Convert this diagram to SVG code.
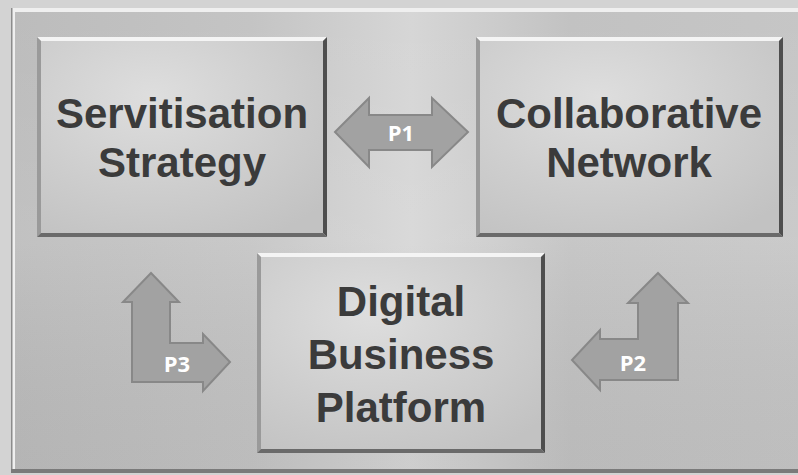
<svg xmlns="http://www.w3.org/2000/svg" width="798" height="475" viewBox="0 0 798 475">
<defs>
<linearGradient id="panelG" x1="0" y1="0" x2="1" y2="0">
<stop offset="0" stop-color="#bcbcbc"/>
<stop offset="0.3" stop-color="#c4c4c4"/>
<stop offset="0.5" stop-color="#d6d6d6"/>
<stop offset="0.7" stop-color="#c2c2c2"/>
<stop offset="1" stop-color="#c6c6c6"/>
</linearGradient>
<linearGradient id="panelV" x1="0" y1="0" x2="0" y2="1">
<stop offset="0" stop-color="#ffffff" stop-opacity="0"/>
<stop offset="0.5" stop-color="#ffffff" stop-opacity="0.08"/>
<stop offset="1" stop-color="#000000" stop-opacity="0.04"/>
</linearGradient>
<radialGradient id="boxG" cx="0.4" cy="0.3" r="0.8">
<stop offset="0" stop-color="#dedede"/>
<stop offset="0.6" stop-color="#cdcdcd"/>
<stop offset="1" stop-color="#c2c2c2"/>
</radialGradient>
<style>
.lbl{font-family:"Liberation Sans",Arial,sans-serif;font-weight:bold;font-size:42px;fill:#3b3b3b;text-anchor:middle}
.plbl{font-family:"Open Sans","Liberation Sans",sans-serif;font-weight:bold;font-size:22px;fill:#ffffff;text-anchor:middle}
.arr{fill:#a2a2a2;stroke:#888888;stroke-width:2;stroke-linejoin:miter}
.face{fill:url(#boxG)}
.btop{fill:#f4f4f4}
.bleft{fill:#9a9a9a}
.bright{fill:#4e4e4e}
.bbot{fill:#6a6a6a}
</style>
</defs>
<rect x="0" y="0" width="798" height="475" fill="#d3d3d3"/>
<g id="panel">
<rect x="11" y="8" width="800" height="465" fill="url(#panelG)"/>
<rect x="11" y="8" width="800" height="465" fill="url(#panelV)"/>
<polygon points="11,8 811,8 811,12 15,12 15,473 11,473" fill="#efefef"/>
<rect x="11" y="8" width="1.5" height="465" fill="#8c8c8c"/>
<rect x="11" y="469" width="800" height="4" fill="#7a7a7a"/>
</g>
<g id="servitisation">
<rect class="face" x="37" y="37" width="290" height="200"/>
<polygon class="btop" points="37,37 327,37 323,41 41,41"/>
<polygon class="bleft" points="37,37 41,41 41,233 37,237"/>
<polygon class="bright" points="327,37 327,237 323,233 323,41"/>
<polygon class="bbot" points="37,237 327,237 323,233 41,233"/>
<text class="lbl" x="182" y="128">Servitisation</text>
<text class="lbl" x="182" y="177">Strategy</text>
</g>
<g id="collaborative">
<rect class="face" x="476" y="37" width="307" height="200"/>
<polygon class="btop" points="476,37 783,37 779,41 480,41"/>
<polygon class="bleft" points="476,37 480,41 480,233 476,237"/>
<polygon class="bright" points="783,37 783,237 779,233 779,41"/>
<polygon class="bbot" points="476,237 783,237 779,233 480,233"/>
<text class="lbl" x="629" y="128">Collaborative</text>
<text class="lbl" x="629" y="177">Network</text>
</g>
<g id="digital">
<rect class="face" x="257" y="253" width="288" height="200"/>
<polygon class="btop" points="257,253 545,253 541,257 261,257"/>
<polygon class="bleft" points="257,253 261,257 261,449 257,453"/>
<polygon class="bright" points="545,253 545,453 541,449 541,257"/>
<polygon class="bbot" points="257,453 545,453 541,449 261,449"/>
<text class="lbl" x="401" y="316">Digital</text>
<text class="lbl" x="401" y="369">Business</text>
<text class="lbl" x="401" y="422">Platform</text>
</g>
<g id="connectors">
<g id="p1">
<polygon class="arr" points="335,132 369,98 369,115 432,115 432,98 468,132 432,167 432,150 369,150 369,167"/>
<text class="plbl" x="401" y="141">P1</text>
</g>
<g id="p3">
<polygon class="arr" points="151,273 179,302 170,302 170,343 203,343 203,334 230,362 203,391 203,382 132,382 132,302 123,302"/>
<text class="plbl" x="177" y="372">P3</text>
</g>
<g id="p2">
<polygon class="arr" points="658,273 688,303 678,303 678,380 600,380 600,390 572,360 600,330 600,339 638,339 638,303 628,303"/>
<text class="plbl" x="633" y="371">P2</text>
</g>
</g>
</svg>
